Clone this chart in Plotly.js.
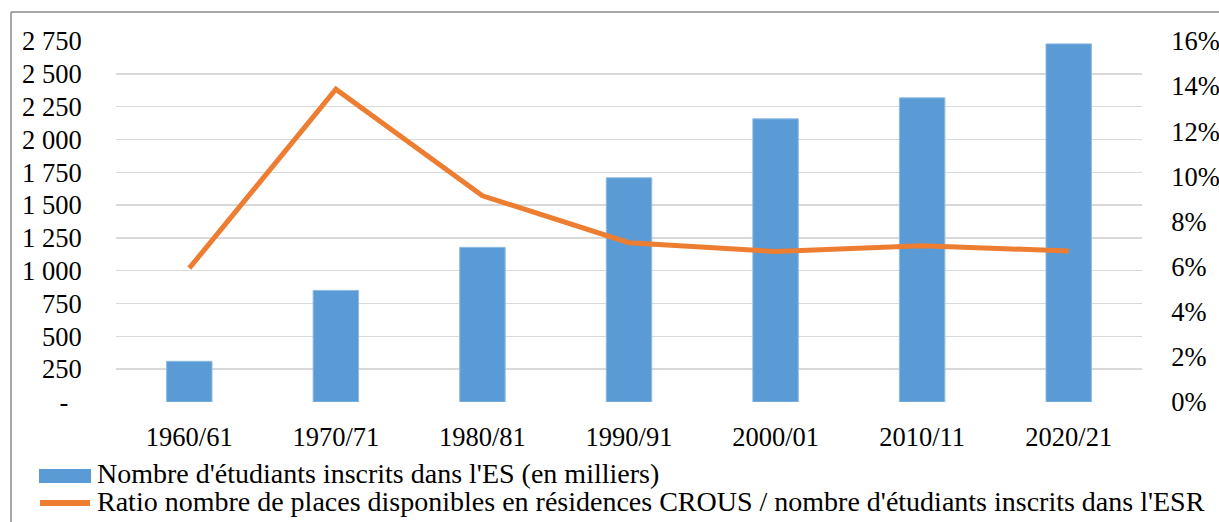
<!DOCTYPE html>
<html>
<head>
<meta charset="utf-8">
<script src="https://cdn.plot.ly/plotly-3.0.1.min.js"></script>
<style>
  html, body { margin: 0; padding: 0; background: #fff; }
  #chart { width: 1219px; height: 522px; }
</style>
</head>
<body>
<div id="chart"></div>
<script>
// ---- data ----
const categories = ["1960/61", "1970/71", "1980/81", "1990/91", "2000/01", "2010/11", "2020/21"];
const etudiants = [310, 850, 1178, 1708, 2157, 2317, 2728];          // milliers
const ratioCrous = [0.0593, 0.1386, 0.0914, 0.0706, 0.0667, 0.0693, 0.0669];

const leftTickVals = [0, 250, 500, 750, 1000, 1250, 1500, 1750, 2000, 2250, 2500, 2750];
const leftTickText = ["-\u00a0\u00a0", "250", "500", "750", "1\u00a0000", "1\u00a0250", "1\u00a0500", "1\u00a0750", "2\u00a0000", "2\u00a0250", "2\u00a0500", "2\u00a0750"];
const rightTickVals = [0, 0.02, 0.04, 0.06, 0.08, 0.10, 0.12, 0.14, 0.16];
const rightTickText = ["0%", "2%", "4%", "6%", "8%", "10%", "12%", "14%", "16%"];

const legendLabels = [
  "Nombre d'étudiants inscrits dans l'ES (en milliers)",
  "Ratio nombre de places disponibles en résidences CROUS / nombre d'étudiants inscrits dans l'ESR"
];

const BLUE = "#5B9BD5";
const ORANGE = "#ED7D31";
const FONT = "Liberation Serif, Times New Roman, serif";

// ---- geometry helpers (pixel -> paper) ----
const W = 1219, H = 522;
const M = { l: 116, r: 77, t: 41, b: 120 };
const PW = W - M.l - M.r, PH = H - M.t - M.b;
const px = x => (x - M.l) / PW;
const py = y => (H - M.b - y) / PH;

const traces = [
  {
    type: "bar",
    x: categories,
    y: etudiants,
    name: legendLabels[0],
    marker: { color: BLUE, line: { color: "#8fbbe3", width: 1 } },
    width: 0.31,
    yaxis: "y",
    hoverinfo: "skip"
  },
  {
    type: "scatter",
    mode: "lines",
    x: categories,
    y: ratioCrous,
    name: legendLabels[1],
    line: { color: ORANGE, width: 5 },
    yaxis: "y2",
    hoverinfo: "skip"
  }
];

const TF = { family: FONT, size: 26.5, color: "#000" };
const LF = { family: FONT, size: 28, color: "#000" };

const layout = {
  width: W, height: H,
  margin: M,
  paper_bgcolor: "#fff",
  plot_bgcolor: "#fff",
  showlegend: false,
  font: TF,
  xaxis: {
    type: "category",
    showgrid: false, zeroline: false, showline: false,
    ticks: "outside", ticklen: 11, tickcolor: "rgba(0,0,0,0)",
    tickfont: TF
  },
  yaxis: {
    range: [0, 2750],
    tickvals: leftTickVals, ticktext: leftTickText,
    showgrid: true, gridcolor: "#d9d9d9", gridwidth: 1.5,
    zeroline: false, showline: false,
    ticks: "outside", ticklen: 28, tickcolor: "rgba(0,0,0,0)",
    tickfont: TF
  },
  yaxis2: {
    overlaying: "y", side: "right",
    range: [0, 0.16],
    tickvals: rightTickVals, ticktext: rightTickText,
    showgrid: false, zeroline: false, showline: false,
    ticks: "outside", ticklen: 23, tickcolor: "rgba(0,0,0,0)",
    tickfont: TF
  },
  shapes: [
    // outer frame
    { type: "line", xref: "paper", yref: "paper", x0: px(11), x1: px(11), y0: py(12), y1: py(540),
      line: { color: "#8a8a8a", width: 1.5 } },
    { type: "line", xref: "paper", yref: "paper", x0: px(11), x1: px(1240), y0: py(12), y1: py(12),
      line: { color: "#8a8a8a", width: 1.5 } },
    // legend swatches
    { type: "rect", xref: "paper", yref: "paper", x0: px(39), x1: px(91), y0: py(483), y1: py(469),
      fillcolor: BLUE, line: { width: 0 } },
    { type: "line", xref: "paper", yref: "paper", x0: px(40), x1: px(90), y0: py(503), y1: py(503),
      line: { color: ORANGE, width: 6 } }
  ],
  annotations: [
    { xref: "paper", yref: "paper", x: px(95), y: py(473), xanchor: "left", yanchor: "middle",
      text: legendLabels[0], showarrow: false, font: LF },
    { xref: "paper", yref: "paper", x: px(95), y: py(501.5), xanchor: "left", yanchor: "middle",
      text: legendLabels[1], showarrow: false, font: LF }
  ]
};

Plotly.newPlot("chart", traces, layout, { displayModeBar: false, staticPlot: true });
</script>
</body>
</html>
